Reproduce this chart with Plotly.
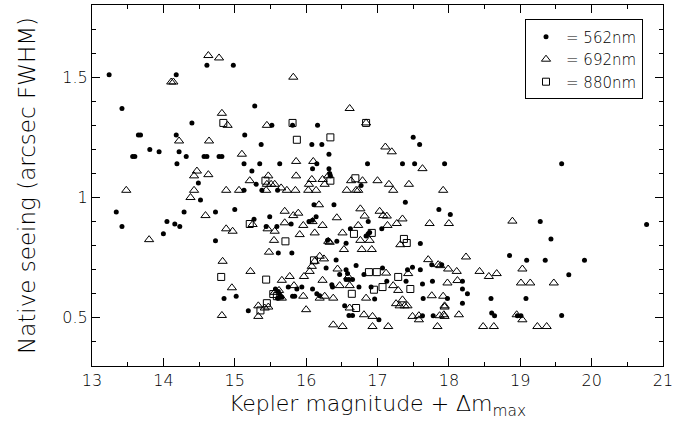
import plotly.graph_objects as go

# 562 nm (filled dots)
x562 = [13.24,14.61,14.98,14.18,13.42,14.40,13.65,13.68,14.18,15.14,13.81,13.94,14.22,13.57,13.60,14.32,14.57,14.61,14.78,14.82,14.19,15.13,14.49,15.13,14.52,15.00,
        15.28,15.52,15.81,16.16,15.37,16.08,16.22,16.32,15.35,15.63,16.15,16.86,15.24,16.09,16.32,16.33,16.34,16.77,15.30,15.38,15.60,16.11,16.39,
        17.50,17.59,17.35,17.52,17.94,17.39,17.86,19.58,
        13.34,13.42,14.00,14.05,14.16,14.23,14.29,14.73,14.73,14.85,15.02,15.19,
        15.27,15.49,15.44,15.59,15.79,16.04,16.09,16.14,15.61,15.80,16.30,16.43,16.56,16.62,16.87,16.84,16.87,16.89,17.06,16.42,16.28,16.70,16.56,16.58,16.47,16.56,16.60,16.65,16.81,17.07,
        15.57,15.61,15.63,15.66,15.60,15.75,15.94,15.87,15.81,15.84,16.09,16.15,16.19,16.36,16.37,16.74,16.91,16.96,17.13,16.54,16.60,16.65,17.02,
        18.02,19.28,17.60,17.76,17.90,18.85,19.09,19.35,17.42,17.49,17.60,17.40,17.63,17.77,18.19,18.19,18.26,17.64,17.98,18.19,18.59,19.08,17.63,17.78,18.60,18.64,18.96,19.01,
        19.43,19.90,19.68,19.58,20.77]
y562 = [1.51,1.55,1.55,1.51,1.37,1.31,1.26,1.26,1.26,1.26,1.20,1.19,1.19,1.17,1.17,1.17,1.17,1.17,1.17,1.17,1.14,1.14,1.06,1.03,0.99,0.95,
        1.38,1.30,1.30,1.30,1.22,1.22,1.22,1.18,1.14,1.14,1.14,1.14,1.11,1.12,1.12,1.10,1.09,1.05,1.055,1.03,1.03,0.97,0.97,
        1.25,1.22,1.14,1.14,1.14,0.98,0.95,1.14,
        0.94,0.88,0.85,0.90,0.89,0.88,0.94,0.94,0.82,0.58,0.59,0.53,
        0.91,0.92,0.88,0.88,0.89,0.90,0.906,0.92,0.77,0.77,0.822,0.818,0.81,0.87,0.90,0.84,0.85,0.855,0.87,0.74,0.707,0.718,0.70,0.684,0.68,0.659,0.659,0.659,0.68,0.707,
        0.62,0.61,0.596,0.586,0.582,0.628,0.628,0.62,0.59,0.59,0.62,0.60,0.592,0.638,0.628,0.628,0.628,0.578,0.652,0.55,0.51,0.51,0.492,
        0.93,0.90,0.809,0.721,0.721,0.759,0.739,0.739,0.70,0.71,0.70,0.652,0.641,0.652,0.652,0.62,0.60,0.58,0.58,0.561,0.58,0.58,0.509,0.509,0.52,0.509,0.509,0.509,
        0.828,0.739,0.679,0.51,0.888]

# 692 nm (open triangles)
x692 = [14.63,14.78,14.11,14.14,14.82,14.90,14.22,14.64,15.10,14.47,14.43,14.63,13.48,14.43,14.38,14.88,15.06,
        15.82,16.61,15.45,16.84,17.11,17.20,15.86,16.10,15.86,15.21,15.47,15.45,15.51,15.56,16.08,16.23,16.31,16.04,16.26,16.63,16.79,17.00,17.16,17.22,15.44,15.65,15.73,15.85,16.03,16.14,16.57,16.70,16.73,16.18,
        17.63,17.44,17.92,
        13.80,14.59,14.88,14.97,14.83,14.96,14.82,
        15.25,15.70,15.82,15.89,15.46,15.56,15.70,15.96,16.09,16.23,16.12,15.91,15.55,15.48,16.31,16.33,16.43,16.51,16.53,16.73,16.76,16.82,16.76,16.89,16.78,16.92,17.03,17.08,17.13,17.14,17.27,
        15.22,15.66,15.77,15.97,16.05,16.08,16.12,16.19,16.25,16.44,16.59,16.23,17.12,
        15.83,15.56,15.62,15.66,15.96,16.19,16.26,16.38,16.47,16.61,16.84,15.33,15.42,15.47,15.33,16.00,16.61,16.81,16.93,16.38,16.51,16.93,17.15,
        17.35,17.73,18.00,18.89,17.32,17.71,17.85,17.88,18.24,17.99,18.11,17.43,18.43,18.56,18.67,19.03,17.22,17.29,17.98,18.12,19.01,19.14,17.76,17.92,17.94,17.94,
        17.26,17.31,17.35,17.38,17.42,17.49,17.58,17.58,17.87,17.93,17.94,18.14,18.95,19.03,17.84,18.48,18.63,19.24,19.37,19.47]
y692 = [1.59,1.58,1.48,1.48,1.35,1.30,1.235,1.235,1.18,1.11,1.09,1.095,1.03,1.03,1.00,1.03,1.03,
        1.50,1.37,1.30,1.31,1.21,1.19,1.15,1.15,1.09,1.07,1.09,1.055,1.055,1.055,1.075,1.075,1.09,1.055,1.055,1.07,1.07,1.07,1.055,1.03,1.03,1.04,1.03,1.03,1.03,1.03,1.03,1.03,1.03,0.97,
        1.12,1.055,1.03,
        0.825,0.925,0.87,0.86,0.735,0.625,0.51,
        0.888,0.943,0.925,0.935,0.87,0.86,0.895,0.884,0.90,0.884,0.853,0.846,0.822,0.773,0.818,0.814,0.916,0.853,0.784,0.884,0.953,0.923,0.822,0.822,0.784,0.784,0.943,0.925,0.923,0.884,0.892,
        0.693,0.656,0.672,0.672,0.693,0.714,0.735,0.756,0.745,0.703,0.67,0.656,0.686,
        0.634,0.606,0.614,0.582,0.59,0.582,0.59,0.582,0.634,0.634,0.582,0.55,0.541,0.545,0.506,0.534,0.541,0.513,0.506,0.471,0.464,0.464,0.464,
        0.911,0.892,0.892,0.902,0.804,0.742,0.721,0.717,0.753,0.703,0.693,0.684,0.693,0.672,0.684,0.703,0.634,0.614,0.645,0.655,0.645,0.645,0.592,0.59,0.55,0.545,
        0.559,0.55,0.575,0.55,0.55,0.506,0.509,0.492,0.509,0.513,0.506,0.513,0.513,0.492,0.464,0.464,0.464,0.464,0.464,0.645]

# 880 nm (open squares)
x880 = [14.84,15.81,16.84,15.87,16.34,15.43,16.34,16.69,14.81,15.21,15.71,16.67,16.92,15.44,16.11,16.88,16.99,15.54,15.59,16.64,16.95,17.07,15.45,15.36,16.70,17.37,17.41,17.29,17.46]
y880 = [1.31,1.31,1.31,1.24,1.25,1.07,1.07,1.08,0.67,0.89,0.818,0.849,0.853,0.659,0.739,0.69,0.69,0.599,0.59,0.60,0.617,0.628,0.561,0.531,0.541,0.828,0.811,0.67,0.62]

names = ["= 562nm", "= 692nm", "= 880nm"]
x_title = "Kepler magnitude + \u0394m<sub>max</sub>"
y_title = "Native seeing (arcsec FWHM)"

FONT = "DejaVu Sans"
TXT = "black"
W = 200

fig = go.Figure()
fig.add_trace(go.Scatter(x=x562, y=y562, mode="markers", name=names[0],
                         marker=dict(symbol="circle", size=5, color="black")))
fig.add_trace(go.Scatter(x=x692, y=y692, mode="markers", name=names[1],
                         marker=dict(symbol="triangle-up-open", size=8, color="black", line=dict(width=1))))
fig.add_trace(go.Scatter(x=x880, y=y880, mode="markers", name=names[2],
                         marker=dict(symbol="square-open", size=7, color="black", line=dict(width=1))))

axis_common = dict(showline=True, linecolor="black", linewidth=1, mirror="ticks",
                   ticks="inside", ticklen=8, tickwidth=1, tickcolor="black",
                   showgrid=False, zeroline=False,
                   tickfont=dict(family=FONT, size=16, color=TXT, weight=W))

fig.update_xaxes(range=[13, 21], dtick=1, tick0=13,
                 minor=dict(dtick=0.5, ticklen=4, ticks="inside", tickcolor="black"),
                 title=dict(text=x_title, font=dict(family=FONT, size=22, color=TXT, weight=W), standoff=6),
                 **axis_common)
fig.update_yaxes(range=[0.3, 1.8], dtick=0.5, tick0=0,
                 minor=dict(dtick=0.1, tick0=0, ticklen=4, ticks="inside", tickcolor="black"),
                 title=dict(text=y_title, font=dict(family=FONT, size=23, color=TXT, weight=W), standoff=20),
                 **axis_common)

fig.update_layout(width=689, height=437,
                  margin=dict(l=92, r=26, t=5, b=71, autoexpand=False),
                  plot_bgcolor="white", paper_bgcolor="white",
                  showlegend=True,
                  legend=dict(x=0.965, y=0.96, xanchor="right", yanchor="top",
                              bordercolor="black", borderwidth=1, bgcolor="white",
                              font=dict(family=FONT, size=15, color="black", weight=W),
                              itemwidth=30, tracegroupgap=0))

fig.write_html("out.html")
